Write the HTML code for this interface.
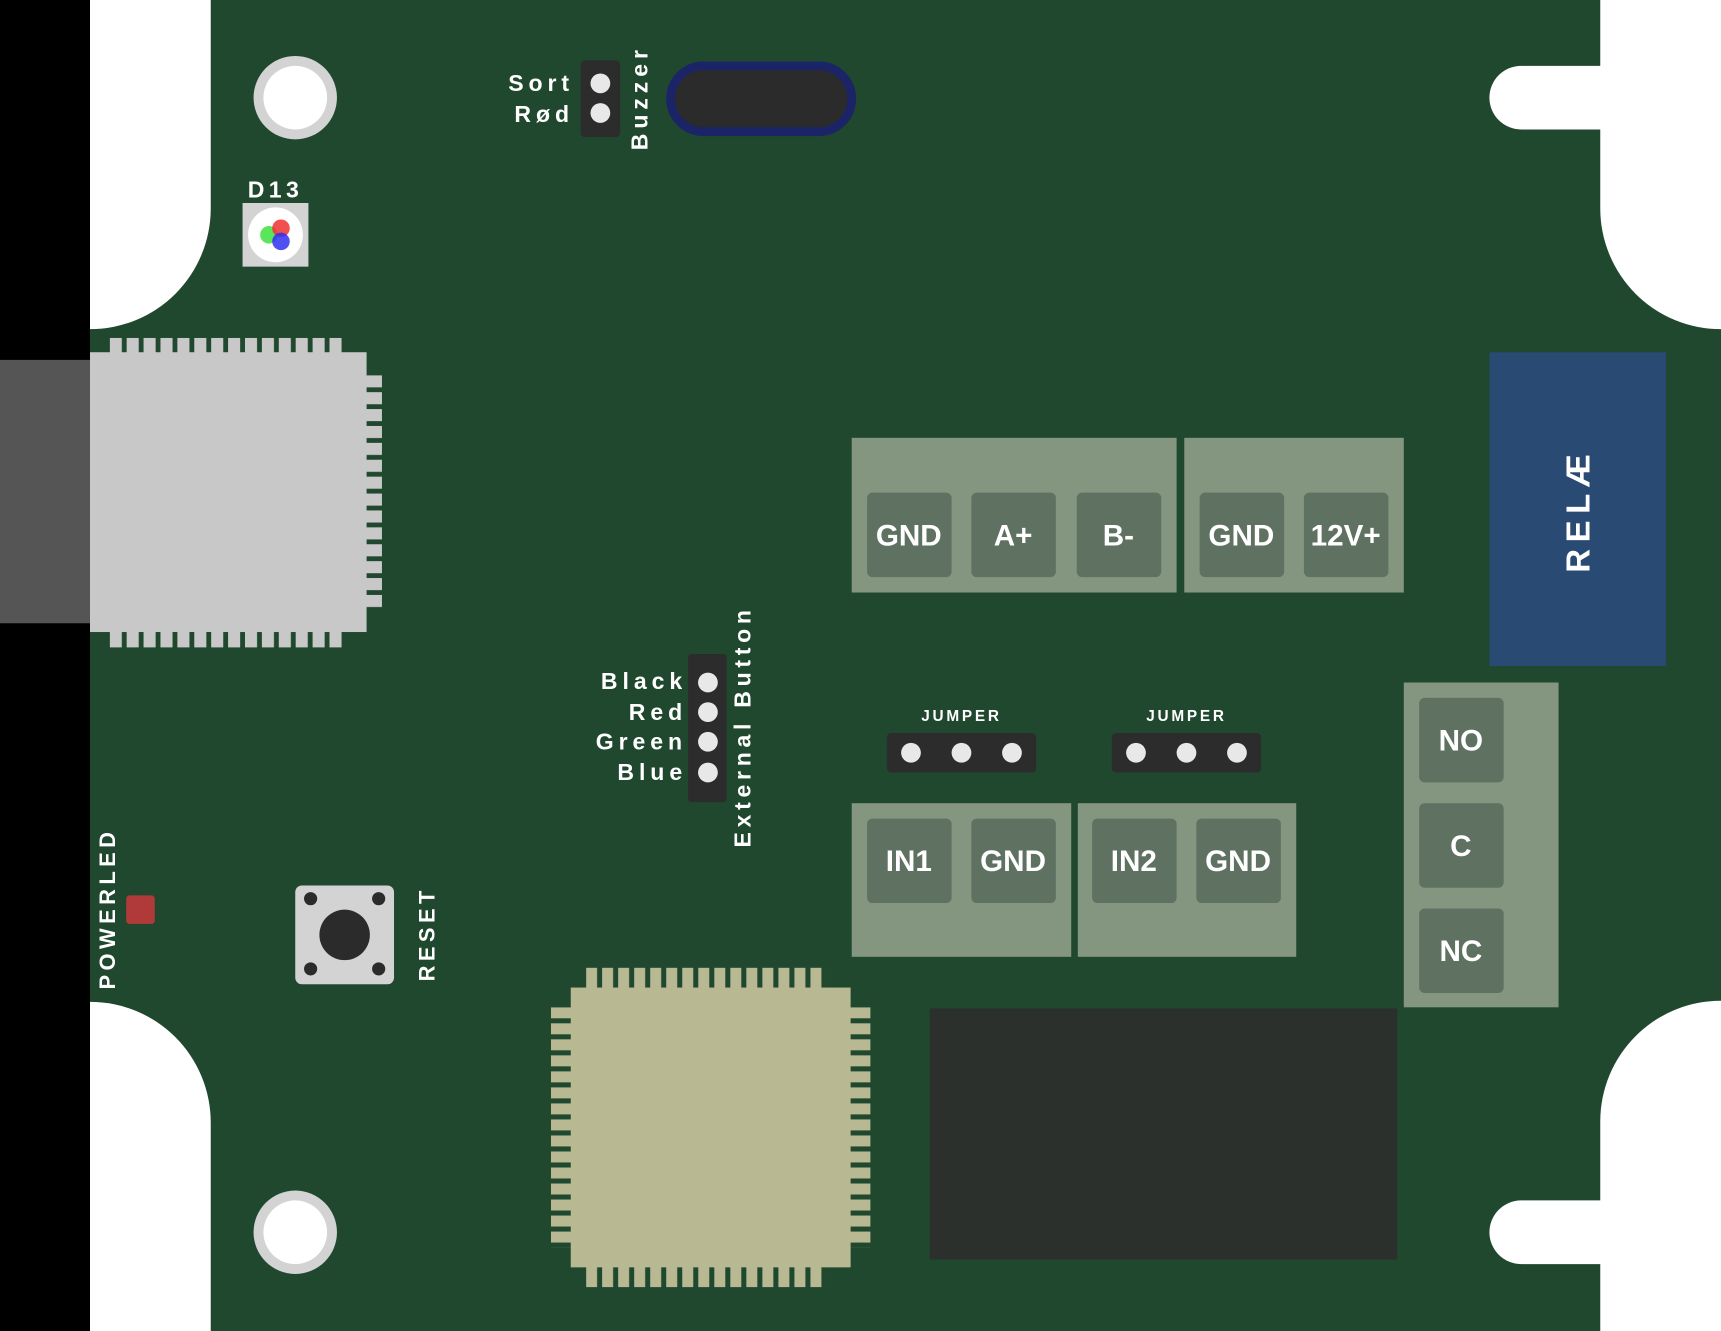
<!DOCTYPE html>
<html><head><meta charset="utf-8"><style>
html,body{margin:0;padding:0;background:#000;}
svg{display:block;}
text{font-family:"Liberation Sans",sans-serif;font-weight:bold;fill:#fff;}
</style></head><body>
<svg width="1721" height="1331" viewBox="0 0 1568 1213" preserveAspectRatio="none" xmlns="http://www.w3.org/2000/svg">
<defs>
<pattern id="mh" x="100" y="0" width="15.4" height="2000" patternUnits="userSpaceOnUse"><rect x="0" y="0" width="11" height="2000" fill="#c8c8c8"/></pattern>
<pattern id="mv" x="0" y="342" width="2000" height="15.4" patternUnits="userSpaceOnUse"><rect x="0" y="0" width="2000" height="11" fill="#c8c8c8"/></pattern>
<pattern id="ch" x="534" y="0" width="14.6" height="2000" patternUnits="userSpaceOnUse"><rect x="0" y="0" width="10" height="2000" fill="#b8b992"/></pattern>
<pattern id="cv" x="0" y="918" width="2000" height="14.6" patternUnits="userSpaceOnUse"><rect x="0" y="0" width="2000" height="10" fill="#b8b992"/></pattern>
</defs>
<rect x="0" y="0" width="1568" height="1213" fill="#000"/>
<rect x="82" y="0" width="1486" height="1213" fill="#1f482e"/>
<path d="M82 0 H192 V190 A110 110 0 0 1 82 300 Z" fill="#fff"/>
<path d="M82 913 A110 110 0 0 1 192 1023 V1213 H82 Z" fill="#fff"/>
<path d="M1458 0 H1568 V300 A110 110 0 0 1 1458 190 Z" fill="#fff"/>
<rect x="1357" y="60" width="140" height="58" rx="29" fill="#fff"/>
<path d="M1568 912 V1213 H1458 V1022 A110 110 0 0 1 1568 912 Z" fill="#fff"/>
<rect x="1357" y="1094" width="140" height="58" rx="29" fill="#fff"/>
<rect x="0" y="328" width="82" height="240" fill="#555"/>
<rect x="100" y="308" width="215" height="282" fill="url(#mh)"/>
<rect x="320" y="342" width="28" height="215" fill="url(#mv)"/>
<rect x="82" y="321" width="252" height="255" fill="#c8c8c8"/>
<circle cx="269" cy="89" r="38" fill="#d3d3d3"/><circle cx="269" cy="89" r="29" fill="#fff"/>
<circle cx="269" cy="1123" r="38" fill="#d3d3d3"/><circle cx="269" cy="1123" r="29" fill="#fff"/>
<text x="251" y="180" font-size="21" text-anchor="middle" letter-spacing="4">D13</text>
<rect x="221" y="185" width="60" height="58" fill="#d3d3d3"/>
<circle cx="251" cy="214" r="25" fill="#fff"/>
<circle cx="245" cy="214" r="8" fill="#3ee03e" opacity="0.85"/>
<circle cx="256" cy="208" r="8" fill="#f03030" opacity="0.85"/>
<circle cx="256" cy="220" r="8" fill="#3030f0" opacity="0.85"/>
<text x="523" y="83" font-size="21" text-anchor="end" letter-spacing="4.5">Sort</text>
<text x="523" y="111" font-size="21" text-anchor="end" letter-spacing="4.5">Rød</text>
<rect x="529" y="55" width="36" height="70" rx="4" fill="#2c2c2c"/>
<circle cx="547" cy="76" r="9" fill="#e8e8e8"/><circle cx="547" cy="103" r="9" fill="#e8e8e8"/>
<text transform="translate(590 89) rotate(-90)" font-size="21" text-anchor="middle" letter-spacing="4.5">Buzzer</text>
<rect x="611" y="60" width="165" height="60" rx="30" fill="#2b2b2b" stroke="#1b2466" stroke-width="8"/>
<rect x="776" y="399" width="296" height="141" fill="#84967f"/>
<rect x="1079" y="399" width="200" height="141" fill="#84967f"/>
<g fill="#5f7161">
<rect x="790" y="449" width="77" height="77" rx="5"/><rect x="885" y="449" width="77" height="77" rx="5"/><rect x="981" y="449" width="77" height="77" rx="5"/>
<rect x="1093" y="449" width="77" height="77" rx="5"/><rect x="1188" y="449" width="77" height="77" rx="5"/>
</g>
<g font-size="27" text-anchor="middle">
<text x="828" y="497">GND</text><text x="923" y="497">A+</text><text x="1019" y="497">B-</text>
<text x="1131" y="497">GND</text><text x="1226" y="497">12V+</text>
</g>
<rect x="1357" y="321" width="161" height="286" fill="#284a73"/>
<text transform="translate(1448 465) rotate(-90)" font-size="30" text-anchor="middle" letter-spacing="6">RELÆ</text>
<rect x="1279" y="622" width="141" height="296" fill="#84967f"/>
<g fill="#5f7161">
<rect x="1293" y="636" width="77" height="77" rx="5"/><rect x="1293" y="732" width="77" height="77" rx="5"/><rect x="1293" y="828" width="77" height="77" rx="5"/>
</g>
<g font-size="27" text-anchor="middle">
<text x="1331" y="684">NO</text><text x="1331" y="780">C</text><text x="1331" y="876">NC</text>
</g>
<text x="876" y="657" font-size="14" text-anchor="middle" letter-spacing="2.5">JUMPER</text>
<text x="1081" y="657" font-size="14" text-anchor="middle" letter-spacing="2.5">JUMPER</text>
<rect x="808" y="668" width="136" height="36" rx="4" fill="#2c2c2c"/>
<rect x="1013" y="668" width="136" height="36" rx="4" fill="#2c2c2c"/>
<g fill="#e8e8e8">
<circle cx="830" cy="686" r="9"/><circle cx="876" cy="686" r="9"/><circle cx="922" cy="686" r="9"/>
<circle cx="1035" cy="686" r="9"/><circle cx="1081" cy="686" r="9"/><circle cx="1127" cy="686" r="9"/>
</g>
<rect x="776" y="732" width="200" height="140" fill="#84967f"/>
<rect x="982" y="732" width="199" height="140" fill="#84967f"/>
<g fill="#5f7161">
<rect x="790" y="746" width="77" height="77" rx="5"/><rect x="885" y="746" width="77" height="77" rx="5"/>
<rect x="995" y="746" width="77" height="77" rx="5"/><rect x="1090" y="746" width="77" height="77" rx="5"/>
</g>
<g font-size="27" text-anchor="middle">
<text x="828" y="794">IN1</text><text x="923" y="794">GND</text><text x="1033" y="794">IN2</text><text x="1128" y="794">GND</text>
</g>
<g font-size="21" text-anchor="end" letter-spacing="4.5">
<text x="626" y="628">Black</text><text x="626" y="656">Red</text><text x="626" y="683">Green</text><text x="626" y="711">Blue</text>
</g>
<rect x="627" y="596" width="35" height="135" rx="3" fill="#2c2c2c"/>
<g fill="#e8e8e8"><circle cx="645" cy="622" r="9"/><circle cx="645" cy="649" r="9"/><circle cx="645" cy="676" r="9"/><circle cx="645" cy="704" r="9"/></g>
<text transform="translate(684 662) rotate(-90)" font-size="21" text-anchor="middle" letter-spacing="4.3">External Button</text>
<text transform="translate(105 828) rotate(-90)" font-size="20" text-anchor="middle" letter-spacing="4">POWERLED</text>
<rect x="115" y="816" width="26" height="26" rx="3" fill="#b03a3a"/>
<rect x="269" y="807" width="90" height="90" rx="6" fill="#d3d3d3"/>
<circle cx="314" cy="852" r="23" fill="#2b2b2b"/>
<g fill="#2b2b2b"><circle cx="283" cy="819" r="6"/><circle cx="345" cy="819" r="6"/><circle cx="283" cy="883" r="6"/><circle cx="345" cy="883" r="6"/></g>
<text transform="translate(396 851) rotate(-90)" font-size="20" text-anchor="middle" letter-spacing="4">RESET</text>
<rect x="534" y="882" width="219" height="291" fill="url(#ch)"/>
<rect x="502" y="918" width="291" height="219" fill="url(#cv)"/>
<rect x="520" y="900" width="255" height="255" fill="#b8b992"/>
<rect x="847" y="919" width="426" height="229" fill="#2c302c"/>
</svg>
</body></html>
